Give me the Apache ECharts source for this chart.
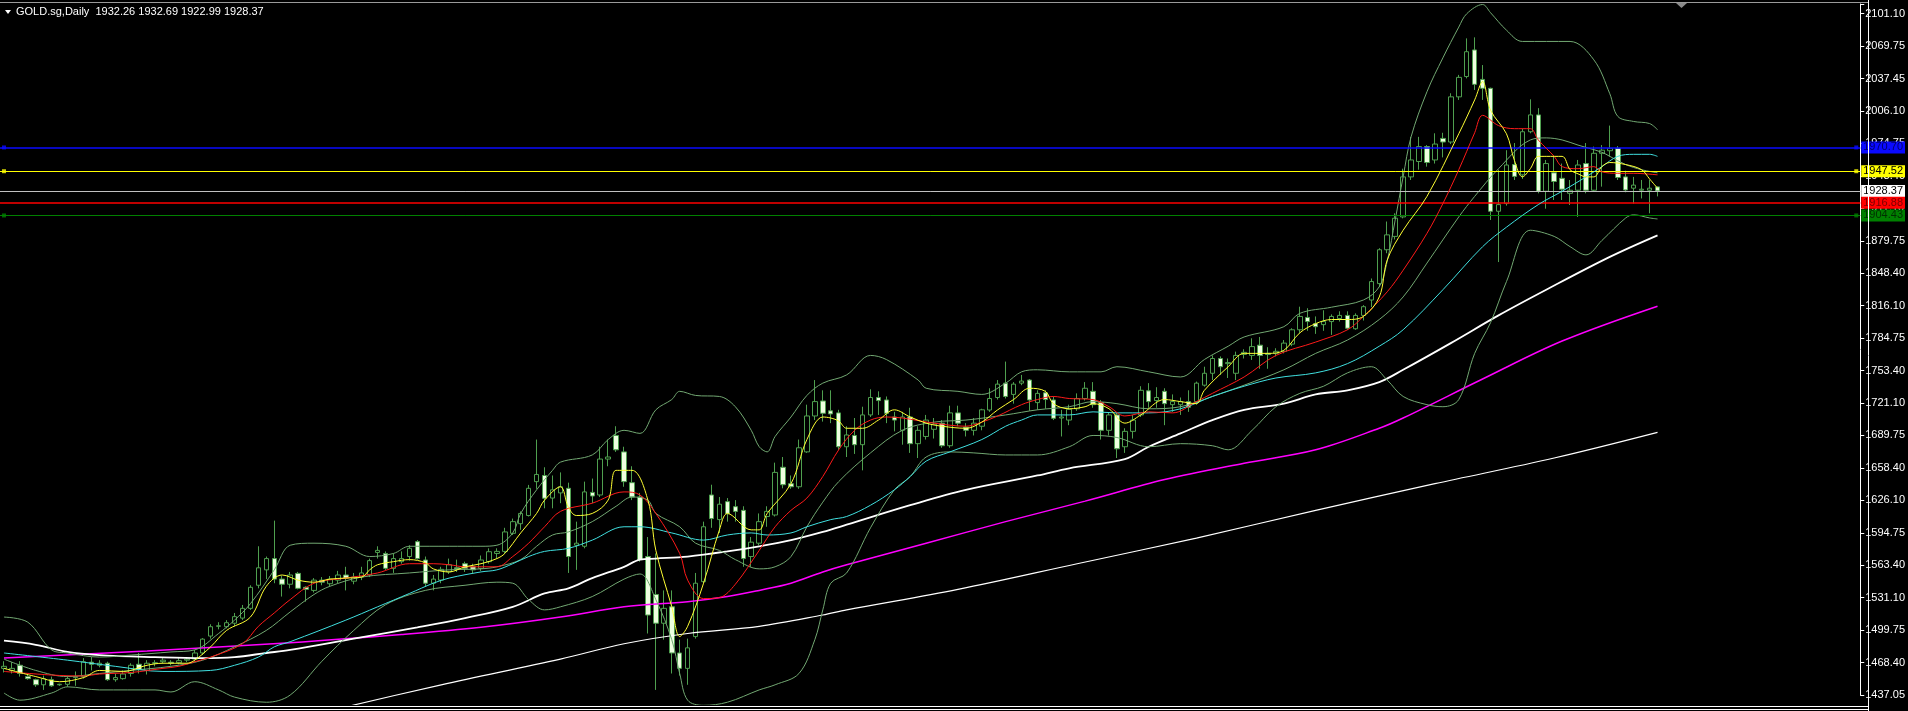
<!DOCTYPE html>
<html><head><meta charset="utf-8">
<script src="https://cdn.jsdelivr.net/npm/echarts/dist/echarts.min.js"></script>
<style>html,body{margin:0;padding:0;background:#000;overflow:hidden}#c{width:1908px;height:711px}</style>
</head><body><div id="c"></div>
<script>
// ---- candle data (GOLD.sg daily) ----
const openP = [1463,1461,1466,1455,1452,1447,1452,1447,1447.5,1454,
1455,1469,1466,1468,1452,1453,1458,1467,1461,1468,
1469.5,1469,1468.5,1471,1472,1478,1494.5,1504,1503.6,1507,
1512,1521.5,1544,1559,1570,1550,1545,1555.6,1542,1539,
1549,1545.5,1549,1554,1548,1552,1554,1576,1575,1560.5,
1567,1572,1586.5,1568.6,1546,1549,1557,1561,1565,1562,
1560.5,1567,1575,1577,1594.6,1604,1612,1645,1651,1629,
1634,1638.5,1583,1582,1634.5,1632,1667,1690,1674,1644,
1630,1572,1535,1507,1523,1478,1463,1494,1547.5,1632,
1608,1625.5,1620.6,1617,1572,1585,1611,1612.5,1659,1643,
1640,1674,1709,1723.6,1714,1712,1679,1690,1681,1710,
1727,1724.6,1708,1695,1708,1682,1689,1696,1702,1680,
1712,1698,1695,1699,1714.8,1727,1741,1730,1741,1744,
1722,1731.6,1724.6,1707,1705,1716,1726,1733,1722,1695,
1710,1679,1694,1710,1733.5,1724,1733,1720,1720,1723,
1723,1739,1750.6,1765,1760,1750.6,1769,1768,1778,1770,
1770,1772,1779,1793,1805,1799,1798,1801,1804,1807,
1794,1807,1822,1838,1871,1884,1903,1942,1957,1971.5,
1958.5,1979.5,1976,2020,2039.8,2065.7,2037,2028.3,1908.5,1916,
1954,1944,1986,2002.4,1928,1946,1940.6,1926,1929,1955,
1929,1965,1967.5,1969.8,1942,1931,1929,1929,1932.26];
const highP = [1470,1469,1470,1457,1453,1456,1455,1448,1456,1460,
1473,1474,1471,1469.5,1458,1461,1468,1478,1471,1471,
1473,1471,1473,1474,1481,1492.5,1506,1508,1510,1517,
1524.8,1544,1582,1572,1607,1553,1557,1557,1543,1551,
1552,1553,1558,1562,1556,1562,1570,1582,1577,1575,
1577,1583,1588,1572,1554,1562,1570,1569,1567,1565,
1573,1580,1580,1600,1609,1616,1641.8,1686,1659,1651,
1654,1644,1606,1645,1648,1679,1686,1699,1679,1660,
1634,1591,1575,1539,1539,1491,1492,1556,1606,1642,
1630,1629,1627,1621,1591,1614,1621,1663.5,1669,1651,
1686,1720,1744,1734,1734,1715,1699,1707,1718,1735,
1733,1728,1713,1713,1717,1699,1710,1707,1705,1719,
1719,1702,1707,1716,1736,1744,1762,1742,1749,1745,
1734,1734,1728,1715,1720,1731,1742,1742,1724.6,1712,
1712,1697,1710,1738,1741,1737,1736,1730,1727,1734,
1742.5,1757,1768,1767,1765,1771.7,1774,1784.7,1786,1776,
1775,1783,1794.5,1815.5,1814,1806,1812,1808,1811,1811,
1809,1817,1843,1872.5,1898.5,1906.5,1950,1981,1981,1973,
1984.5,1985,2023.5,2041.4,2077,2078,2051,2029,1949,1968,
1975,1989,2017.6,2009,1958.5,1962,1955,1939,1958.5,1975,
1971.5,1973,1992,1972,1948,1942,1939,1939,1932.69];
const lowP = [1459,1458,1455,1452,1445,1442,1445,1446,1445,1446,
1453,1461,1464,1450.8,1450,1452,1455,1458,1457,1465,
1468,1466,1467,1469,1469.5,1476,1492,1501,1502,1504,
1510,1520,1541,1550,1546,1533,1541,1540,1528,1537,
1544,1543,1546,1539,1545,1549,1552,1570,1559,1556,
1565,1568,1569,1542.6,1539,1546,1555,1557,1557,1555,
1558,1565,1570,1575,1593,1598,1611,1638,1619,1619,
1624,1556,1559,1580,1624,1630,1660,1674,1640,1627,
1567,1497,1442,1491,1458,1456,1447,1492,1546,1600,
1595,1606,1606,1562,1562,1583,1601,1611,1638.5,1638,
1638,1673,1705,1703.5,1702,1676,1669,1672,1656,1708,
1710,1702,1694,1681,1673,1668,1686,1687,1678,1678,
1699,1689,1690,1695,1713,1725,1726,1721,1739,1714,
1715,1716,1705,1689,1700,1714,1724,1717,1686,1690,
1668,1673,1687,1708,1717,1717,1700,1713,1710,1713,
1720,1737.6,1744,1749,1746,1744,1765,1763.6,1755,1755,
1767,1770,1777,1789.6,1792,1789,1792,1788,1801,1793,
1793,1802,1815,1834.6,1867.6,1881,1901.6,1939,1949,1952,
1955,1961,1974,2017,2038,2026.7,2017,1900,1859,1914,
1939,1940,1984.5,1926,1911,1919.5,1919.5,1914.6,1903,1926,
1927.6,1932.5,1961.6,1939,1927,1916,1921,1906.5,1922.99];
const closeP = [1465,1463,1458,1453,1447,1453,1446,1447.5,1453,1455,
1469.5,1467,1468,1452,1454,1457.5,1466,1462,1468,1468.5,
1471,1468,1470.5,1472,1478,1491.5,1503.6,1504.5,1507.5,1513.4,
1521.5,1542,1561,1570,1550,1545,1554,1541,1540,1549,
1547,1550,1554,1551,1552,1556,1568,1578,1560.5,1570,
1570,1580,1570,1546,1550,1559.5,1564,1560,1560.5,1559,
1568.6,1576.7,1577,1596,1606,1614,1638.5,1652,1628.8,1637,
1640,1572,1585,1635,1631,1667,1669,1676,1645,1630,
1569,1515,1507,1521.5,1478,1463,1483,1546,1601,1609,
1623,1614,1616,1570,1586,1606,1616,1654,1642,1640,
1678,1709,1723,1711.6,1711,1679,1690.5,1681,1710,1727,
1724,1711.6,1705,1708,1682,1695,1705,1701,1680,1712,
1702,1695,1702,1715,1726,1740,1728,1740,1743,1724.6,
1731,1725,1706.7,1708,1715.5,1726,1736,1720,1695,1710,
1677,1694,1705,1734,1723,1727,1721,1723,1723,1717.5,
1741,1750.6,1765,1757,1761,1768,1771,1776.6,1768,1769,
1772,1780,1793,1806,1801,1796,1801,1806,1807,1794.5,
1807,1815.5,1840,1871,1885.5,1901.7,1942,1958.5,1971.5,1956,
1974,1976,2020,2039,2064,2032.2,2028.3,1908.5,1915,1953.6,
1942.5,1986,2002.4,1928,1955,1937.5,1930,1929,1953.6,1929,
1965,1968,1969.8,1941.4,1929.3,1934,1930,1931,1928.37];

// ---- indicator lines, [candle index, value] ----
const maFast = [[0,1463],[4,1455],[7,1450],[10,1454],[12,1461],[15,1460],[18,1466],[20,1468],[23,1468],[24,1471],[26,1484],[28,1500],[31,1513],[33,1543],[35,1554],[37,1549],[39,1547],[41,1550],[43,1551],[45,1552],[46,1559],[47,1564],[49,1567],[51,1569],[53,1566],[54,1560],[56,1557],[58,1562],[60,1565],[62,1570],[63,1575],[65,1595],[67,1614],[68,1627],[70,1640],[71,1620],[72,1612],[74,1614],[76,1627],[77,1656],[79,1656],[81,1627],[82,1578],[84,1523],[85,1494],[86,1504],[88,1546],[90,1598],[91,1614],[94,1598],[95,1598],[96,1614],[99,1643],[101,1686],[103,1708],[104,1707],[105,1704],[106,1697],[108,1697],[110,1705],[112,1715],[114,1708],[116,1702],[118,1699],[121,1697],[123,1703],[125,1715],[127,1725],[129,1736],[131,1733],[132,1721],[134,1716],[136,1718],[137,1721],[139,1716],[141,1702],[143,1710],[146,1725],[148,1723],[150,1721],[151,1734],[154,1757],[156,1770],[159,1770],[161,1773],[163,1790],[165,1799],[167,1803],[169,1803],[171,1806],[173,1825],[174,1861],[176,1890],[179,1923],[183,1984],[185,2017],[186,2035],[187,2007],[189,1984],[190,1958],[191,1942],[192,1950],[193,1962],[194,1962],[196,1962],[197,1949],[198,1945],[199,1942],[200,1942],[201,1952],[202,1956],[204,1954],[206,1949],[207,1940],[208,1931]];
const maRed = [[0,1460],[6,1456.5],[10,1455.6],[12,1457.5],[16,1459],[20,1463],[22,1465],[24,1469.5],[26,1474],[30,1487],[32,1504],[34,1517],[36,1530],[39,1546],[43,1551],[47,1556],[51,1565],[54,1565],[56,1564],[58,1562],[62,1562],[64,1572],[66,1585],[68,1601],[70,1616],[74,1624],[78,1635],[80,1632],[82,1614],[85,1575],[86,1549],[88,1531],[90,1532],[92,1545],[95,1578],[97,1601],[99,1617],[101,1629],[103,1650],[105,1676],[107,1695],[109,1705],[111,1708],[113,1707],[117,1702],[121,1699],[123,1703],[125,1709],[128,1720],[130,1725],[132,1728],[134,1726],[137,1725],[139,1718],[141,1709],[144,1713],[147,1712],[150,1723],[152,1731],[156,1747],[160,1768],[165,1781],[169,1793],[171,1806],[174,1830],[176,1851],[179,1887],[181,1916],[183,1949],[185,1985],[186,2002],[188,1992],[190,1989],[192,1989],[193,1978],[195,1962],[196,1952],[198,1950],[200,1952],[201,1947],[203,1945.5],[205,1945.5],[208,1944]];
const maCyan = [[0,1478],[8,1471],[14,1465],[20,1460],[26,1461],[29,1466],[32,1474],[34,1484],[36,1489],[43,1510],[47,1523],[51,1536],[54,1546],[56,1551],[60,1557],[62,1559],[64,1565],[66,1572],[68,1577],[71,1580],[74,1588],[78,1601],[80,1601],[84,1595],[88,1588],[91,1593],[94,1595],[96,1593],[99,1595],[101,1601],[104,1608],[106,1611],[109,1622],[112,1637],[114,1650],[116,1665],[119,1674],[123,1686],[126,1699],[128,1705],[130,1710],[134,1710],[137,1713],[140,1712],[144,1712],[148,1716],[152,1728],[156,1738],[160,1746],[165,1751],[169,1760],[173,1777],[176,1793],[181,1832],[186,1874],[189,1893],[193,1915],[196,1928],[199,1942],[201,1952],[203,1962],[205,1964],[207,1964],[208,1962]];
const maWhite = [[0,1490],[4,1486],[8,1479],[12,1476],[19,1474],[25,1473],[29,1474],[33,1478],[36,1481],[44,1492],[52,1503],[58,1512],[64,1523],[68,1536],[71,1541],[74,1551],[78,1562],[80,1569],[82,1570],[86,1572],[91,1577],[95,1582],[99,1588],[103,1596],[106,1603],[114,1622],[121,1637],[130,1651],[134,1658],[141,1667],[144,1679],[148,1692],[152,1705],[156,1715],[161,1721],[165,1730],[169,1734],[173,1742],[176,1754],[182,1780],[188,1807],[194,1832],[202,1864],[208,1885]];
const maMagenta = [[0,1473],[18,1480],[36,1488],[50,1496],[60,1503],[70,1513],[78,1523],[86,1528],[91,1533],[95,1539],[99,1546],[103,1557],[106,1564],[116,1585],[126,1606],[136,1626],[146,1647],[156,1663],[165,1676],[173,1697],[176,1707],[186,1745],[196,1782],[208,1816]];
const maSlow = [[40,1420],[55,1447],[70,1472],[78,1487],[86,1497],[95,1504],[103,1515],[106,1520],[120,1540],[135,1565],[150,1590],[165,1617],[180,1643],[195,1668],[208,1693]];
const bbUpper = [[0,1513],[3,1508],[6,1481],[8,1478],[12,1474],[16,1476],[21,1479],[24,1481],[27,1497],[29,1510],[31,1526],[34,1559],[36,1583],[39,1585],[43,1582],[46,1572],[49,1575],[51,1582],[56,1582],[60,1582],[62,1583],[64,1595],[65,1614],[67,1637],[69,1656],[70,1664],[74,1671],[76,1686],[78,1695],[80,1692],[82,1715],[84,1725],[85,1733],[87,1729],[90,1728],[92,1718],[94,1695],[95,1679],[96,1674],[97,1689],[99,1708],[101,1729],[103,1741],[106,1749],[109,1768],[111,1764],[115,1744],[116,1736],[120,1733],[123,1730],[126,1741],[128,1752],[130,1754],[134,1752],[138,1752],[140,1757],[144,1752],[148,1747],[151,1764],[154,1777],[156,1786],[161,1796],[163,1809],[167,1815],[171,1822],[173,1835],[174,1860],[175,1900],[176,1942],[177,1981],[179,2025],[181,2058],[183,2088],[184,2101],[186,2110],[187,2102],[189,2085],[191,2074],[197,2074],[200,2056],[202,2023],[203,2001],[205,1996],[207,1994],[208,1988]];
const bbMiddle = [[0,1472],[4,1461],[8,1455],[12,1458],[16,1461],[21,1465],[25,1471],[29,1484],[33,1500],[36,1518],[39,1535],[41,1543],[45,1552],[51,1556],[56,1559],[60,1560],[62,1562],[65,1569],[67,1582],[69,1593],[71,1596],[74,1606],[77,1621],[79,1630],[81,1627],[82,1614],[85,1601],[87,1585],[90,1578],[92,1569],[95,1560],[97,1562],[99,1572],[101,1601],[103,1625],[105,1645],[109,1673],[113,1695],[117,1703],[121,1705],[126,1710],[130,1715],[134,1718],[137,1723],[140,1721],[144,1716],[148,1718],[152,1728],[156,1739],[161,1754],[165,1770],[169,1783],[173,1803],[176,1825],[179,1858],[183,1903],[185,1923],[188,1950],[192,1978],[194,1980],[196,1978],[198,1973],[201,1966],[202,1962],[204,1954],[206,1949],[208,1946]];
const bbLower = [[0,1439],[2,1432],[6,1439],[8,1445],[12,1442],[19,1442],[21,1440],[24,1450],[27,1442],[29,1435],[33,1430],[36,1437],[40,1470],[44,1500],[48,1525],[53,1539],[58,1544],[62,1547],[64,1546],[66,1530],[68,1520],[70,1523],[74,1533],[78,1550],[80,1555],[82,1530],[84,1491],[85,1458],[86,1432],[88,1427],[91,1430],[95,1442],[97,1447],[100,1458],[102,1491],[103,1520],[104,1546],[106,1556],[109,1600],[112,1637],[114,1650],[116,1669],[119,1674],[122,1673],[126,1671],[130,1671],[134,1679],[137,1690],[140,1688],[144,1679],[148,1682],[152,1680],[154,1676],[157,1695],[160,1718],[163,1731],[166,1738],[169,1751],[172,1757],[174,1744],[176,1728],[179,1720],[181,1718],[183,1725],[185,1770],[187,1800],[189,1840],[192,1890],[195,1884],[197,1874],[199,1866],[201,1880],[204,1902],[205,1905],[207,1902],[208,1901]];

// ---- horizontal price levels and axis tick labels ----
const levelValues = [1970.70, 1947.52, 1928.37, 1916.88, 1904.43];
const levelTexts = ['1970.70', '1947.52', '1928.37', '1916.88', '1904.43'];
const levelHasHandles = [true, true, false, false, true];
const tickLabels = ['1437.05','1468.40','1499.75','1531.10','1563.40','1594.75','1626.10','1658.40','1689.75','1721.10','1753.40','1784.75','1816.10','1848.40','1879.75','1911.10','1943.40','1974.75','2006.10','2037.45','2069.75','2101.10'];
const headerText = 'GOLD.sg,Daily  1932.26 1932.69 1922.99 1928.37';

// ---- layout / style constants ----
const AXIS_MIN = 1437.05, AXIS_MAX = 2110.5, TICK_STEP = 31.6214;
const EXTRA_SLOTS = 25;
const FONT = '"Liberation Sans Narrow", "Liberation Sans", sans-serif';
const N = openP.length;
const TOTAL = N + EXTRA_SLOTS;
const categories = Array.from({length: TOTAL}, (_, i) => String(i));
const candleData = openP.map((o, i) => [o, closeP[i], lowP[i], highP[i]]);

const levelStyles = [
  {line: '#0a0aff', w: 1.5, bg: '#0a0aff', fg: '#00006a'},
  {line: '#ffff00', w: 1, bg: '#ffff00', fg: '#000000'},
  {line: '#c0c0c0', w: 1, bg: '#ffffff', fg: '#000000'},
  {line: '#ff0000', w: 1.5, bg: '#ff0000', fg: '#7a0000'},
  {line: '#008000', w: 1, bg: '#008000', fg: '#003000'}
];

const markData = levelValues.map((v, k) => {
  const s = levelStyles[k];
  return {
    yAxis: v,
    lineStyle: {color: s.line, width: s.w, type: 'solid'},
    label: {show: true, position: 'end', distance: 1, formatter: levelTexts[k],
      backgroundColor: s.bg, color: s.fg, fontSize: 11, fontFamily: FONT,
      padding: [1, 2, 0, 2], lineHeight: 11}
  };
});

// selection handles of the horizontal lines at both ends
const handleData = [];
levelValues.forEach((v, k) => {
  if (!levelHasHandles[k]) return;
  const c = levelStyles[k].line;
  handleData.push({value: [0, v], itemStyle: {color: c}});
  handleData.push({value: [TOTAL - 1, v], itemStyle: {color: c}});
});

function lineSeries(data, color, width, z) {
  return {type: 'line', data: data, showSymbol: false, symbol: 'none', smooth: 0.35,
    clip: false, silent: true, z: z, lineStyle: {color: color, width: width}};
}

const chart = echarts.init(document.getElementById('c'), null, {renderer: 'canvas'});
chart.setOption({
  backgroundColor: '#000000',
  animation: false,
  grid: {left: -3, right: 39, top: 4, bottom: 16},
  xAxis: {type: 'category', data: categories, boundaryGap: true, show: false},
  yAxis: [
    {type: 'value', min: AXIS_MIN, max: AXIS_MAX, show: false},
    {type: 'value', min: 0, max: AXIS_MAX - AXIS_MIN, interval: TICK_STEP, position: 'right',
      axisLine: {show: true, lineStyle: {color: '#ffffff', width: 1}},
      axisTick: {show: true, length: 4, lineStyle: {color: '#ffffff'}},
      splitLine: {show: false},
      axisLabel: {color: '#ffffff', fontSize: 11, fontFamily: FONT, margin: 5,
        formatter: function (v) {
          const k = Math.round(v / TICK_STEP);
          if (Math.abs(v - k * TICK_STEP) > 0.5 || k < 0 || k >= tickLabels.length) return '';
          return tickLabels[k];
        }}}
  ],
  series: [
    {type: 'candlestick', data: candleData, barWidth: 5, z: 2,
      itemStyle: {color: '#000000', color0: '#eeffe0', borderColor: '#4f9f4f', borderColor0: '#4f9f4f', borderWidth: 1},
      markLine: {silent: true, animation: false, symbol: ['none', 'none'], data: markData}},
    lineSeries(maSlow, '#ffffff', 1.2, 3),
    lineSeries(maMagenta, '#ff00ff', 1.5, 3),
    lineSeries(maWhite, '#ffffff', 1.8, 3),
    lineSeries(bbUpper, '#72a872', 1, 4),
    lineSeries(bbMiddle, '#72a872', 1, 4),
    lineSeries(bbLower, '#72a872', 1, 4),
    lineSeries(maCyan, '#40e0e0', 1, 5),
    lineSeries(maRed, '#ff1a1a', 1, 6),
    lineSeries(maFast, '#ffff33', 1, 7),
    {type: 'scatter', data: handleData, symbol: 'rect', symbolSize: 4, z: 8, silent: true, clip: false}
  ],
  graphic: [
    {type: 'line', silent: true, z: 50, shape: {x1: 0, y1: 2.5, x2: 1868, y2: 2.5}, style: {stroke: '#9a9a9a', lineWidth: 1}},
    {type: 'line', silent: true, z: 50, shape: {x1: 1868.5, y1: 0, x2: 1868.5, y2: 711}, style: {stroke: '#ffffff', lineWidth: 1}},
    {type: 'rect', silent: true, z: 49, shape: {x: 0, y: 705, width: 1868, height: 6}, style: {fill: '#000000'}},
    {type: 'line', silent: true, z: 50, shape: {x1: 0, y1: 706.5, x2: 1868, y2: 706.5}, style: {stroke: '#ffffff', lineWidth: 1}},
    {type: 'line', silent: true, z: 50, shape: {x1: 0, y1: 709.5, x2: 1868, y2: 709.5}, style: {stroke: '#ffffff', lineWidth: 1}},
    {type: 'polygon', silent: true, z: 50, shape: {points: [[5, 10], [11, 10], [8, 14]]}, style: {fill: '#ffffff'}},
    {type: 'text', silent: true, z: 50, x: 16, y: 12, style: {text: headerText, fill: '#ffffff', fontSize: 11, fontFamily: FONT, verticalAlign: 'middle'}},
    {type: 'polygon', silent: true, z: 50, shape: {points: [[1676, 3], [1687, 3], [1681.5, 8]]}, style: {fill: '#8a8a8a'}}
  ]
});
</script></body></html>
